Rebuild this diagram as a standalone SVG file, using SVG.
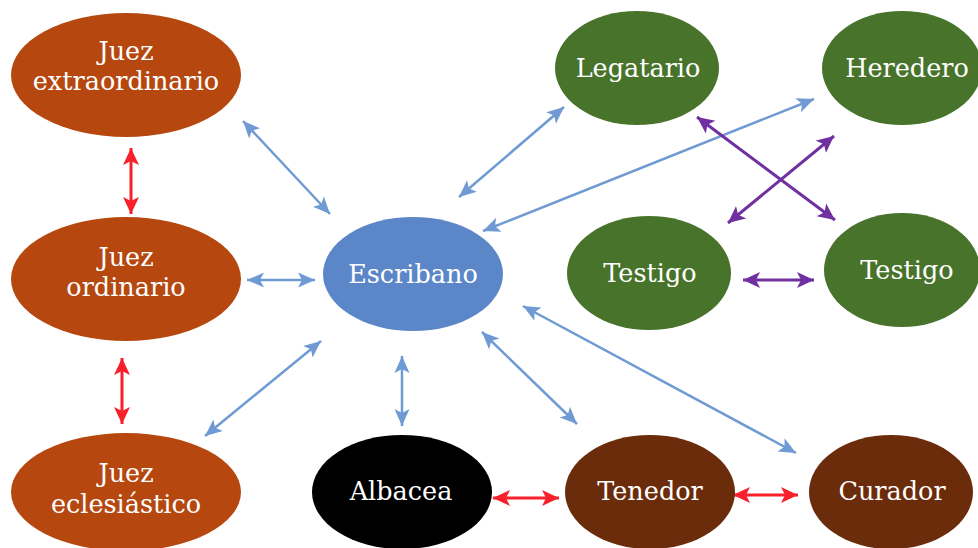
<svg xmlns="http://www.w3.org/2000/svg" width="978" height="548" viewBox="0 0 978 548">
<style>
text{font-family:"DejaVu Serif","Liberation Serif",serif;font-size:25.5px;fill:#fff;text-anchor:middle}
.b{stroke:#6F9AD3;stroke-width:2.5;fill:none;marker-start:url(#mb);marker-end:url(#mb)}
.r{stroke:#F8202A;stroke-width:3;fill:none;marker-start:url(#mr);marker-end:url(#mr)}
.p{stroke:#7030A0;stroke-width:3;fill:none;marker-start:url(#mp);marker-end:url(#mp)}
</style>
<defs>
<marker id="mb" markerUnits="userSpaceOnUse" viewBox="0 -9 18 18" refX="17" refY="0" markerWidth="18" markerHeight="18" orient="auto-start-reverse"><path d="M0,-7.5 L17,0 L0,7.5 L4,0 z" fill="#6F9AD3"/></marker>
<marker id="mr" markerUnits="userSpaceOnUse" viewBox="0 -9 18 18" refX="17" refY="0" markerWidth="18" markerHeight="18" orient="auto-start-reverse"><path d="M0,-8 L17,0 L0,8 L4,0 z" fill="#F8202A"/></marker>
<marker id="mp" markerUnits="userSpaceOnUse" viewBox="0 -9 18 18" refX="17" refY="0" markerWidth="18" markerHeight="18" orient="auto-start-reverse"><path d="M0,-8 L17,0 L0,8 L4,0 z" fill="#7030A0"/></marker>
</defs>
<g id="connectors">
<line class="b" x1="243" y1="121" x2="330" y2="214"/>
<line class="b" x1="247" y1="280" x2="315" y2="280"/>
<line class="b" x1="205" y1="436" x2="321" y2="341"/>
<line class="b" x1="402" y1="356" x2="402" y2="426"/>
<line class="b" x1="482" y1="332" x2="577" y2="424"/>
<line class="b" x1="523" y1="306" x2="796" y2="453"/>
<line class="b" x1="459" y1="197" x2="564" y2="107"/>
<line class="b" x1="483" y1="231" x2="814" y2="99"/>
<line class="r" x1="131" y1="148" x2="131" y2="214"/>
<line class="r" x1="122" y1="358" x2="122" y2="424"/>
<line class="r" x1="493" y1="498" x2="559" y2="498"/>
<line class="r" x1="733" y1="495" x2="798" y2="495"/>
<line class="p" x1="697" y1="117" x2="835" y2="220"/>
<line class="p" x1="728" y1="223" x2="834" y2="136"/>
<line class="p" x1="743" y1="280" x2="814" y2="280"/>
</g>
<g id="juez-extraordinario"><ellipse cx="126" cy="75" rx="115" ry="62" fill="#B5470F"/><text x="126" y="60">Juez</text><text x="126" y="90">extraordinario</text></g>
<g id="juez-ordinario"><ellipse cx="126" cy="279" rx="115" ry="62" fill="#B5470F"/><text x="126" y="266">Juez</text><text x="126" y="296">ordinario</text></g>
<g id="juez-eclesiastico"><ellipse cx="126" cy="492" rx="115" ry="59" fill="#B5470F"/><text x="126" y="482">Juez</text><text x="126" y="513">eclesiástico</text></g>
<g id="escribano"><ellipse cx="413" cy="274" rx="90" ry="57" fill="#5B87C9"/><text x="413" y="283">Escribano</text></g>
<g id="legatario"><ellipse cx="637" cy="68" rx="82" ry="57" fill="#48732B"/><text x="638" y="77">Legatario</text></g>
<g id="heredero"><ellipse cx="902" cy="68" rx="80" ry="57" fill="#48732B"/><text x="907" y="77">Heredero</text></g>
<g id="testigo-1"><ellipse cx="649" cy="273" rx="82" ry="57" fill="#48732B"/><text x="650" y="282">Testigo</text></g>
<g id="testigo-2"><ellipse cx="902" cy="270" rx="78" ry="57" fill="#48732B"/><text x="907" y="279">Testigo</text></g>
<g id="albacea"><ellipse cx="402" cy="492" rx="90" ry="57" fill="#000"/><text x="401" y="500">Albacea</text></g>
<g id="tenedor"><ellipse cx="650" cy="492" rx="85" ry="57" fill="#6B2C0C"/><text x="650" y="500">Tenedor</text></g>
<g id="curador"><ellipse cx="891" cy="492" rx="82" ry="57" fill="#6B2C0C"/><text x="892" y="500">Curador</text></g>
</svg>
